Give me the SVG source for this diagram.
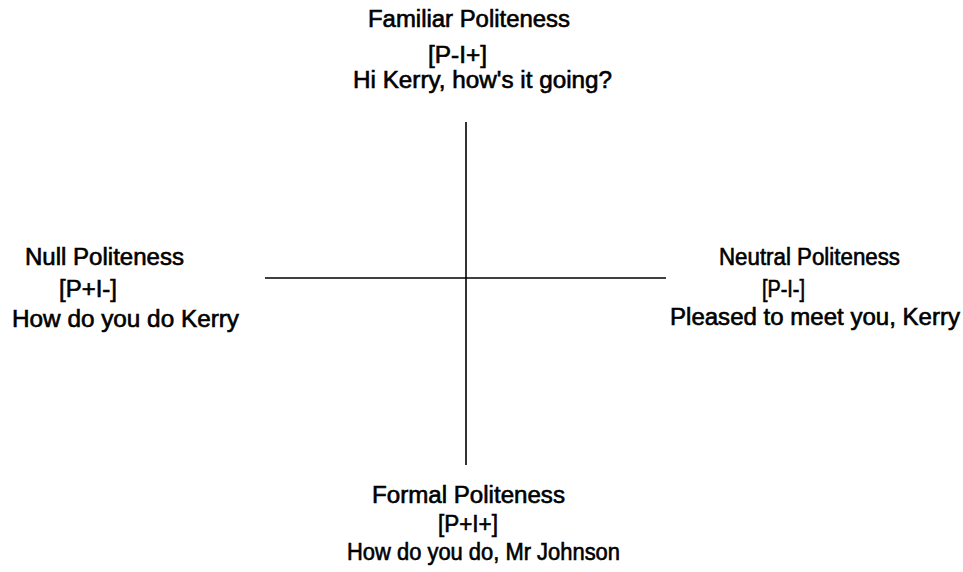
<svg xmlns="http://www.w3.org/2000/svg" width="963" height="572" viewBox="0 0 963 572">
<style>
text{font-family:"Liberation Sans",Arial,sans-serif;font-size:23px;fill:#000;stroke:#000;stroke-width:0.6px}
.axis{stroke:#000;stroke-width:1.6;fill:none}
</style>
<rect width="963" height="572" fill="#fff"/>
<g id="connectors">
<line class="axis" x1="466" y1="122" x2="466" y2="465"/>
<line class="axis" x1="265" y1="278" x2="666" y2="278"/>
</g>
<g id="familiar">
<text x="368" y="27" textLength="202" lengthAdjust="spacingAndGlyphs">Familiar Politeness</text>
<text x="428" y="63" textLength="59" lengthAdjust="spacingAndGlyphs">[P-I+]</text>
<text x="353" y="88" textLength="259" lengthAdjust="spacingAndGlyphs">Hi Kerry, how's it going?</text>
</g>
<g id="null">
<text x="25" y="265" textLength="159" lengthAdjust="spacingAndGlyphs">Null Politeness</text>
<text x="59" y="297" textLength="58" lengthAdjust="spacingAndGlyphs">[P+I-]</text>
<text x="12" y="327" textLength="227" lengthAdjust="spacingAndGlyphs">How do you do Kerry</text>
</g>
<g id="neutral">
<text x="719" y="265" textLength="181" lengthAdjust="spacingAndGlyphs">Neutral Politeness</text>
<text x="762" y="297" textLength="43" lengthAdjust="spacingAndGlyphs">[P-I-]</text>
<text x="670" y="325" textLength="290" lengthAdjust="spacingAndGlyphs">Pleased to meet you, Kerry</text>
</g>
<g id="formal">
<text x="372" y="503" textLength="193" lengthAdjust="spacingAndGlyphs">Formal Politeness</text>
<text x="438" y="532" textLength="60" lengthAdjust="spacingAndGlyphs">[P+I+]</text>
<text x="347" y="560" textLength="273" lengthAdjust="spacingAndGlyphs">How do you do, Mr Johnson</text>
</g>
</svg>
